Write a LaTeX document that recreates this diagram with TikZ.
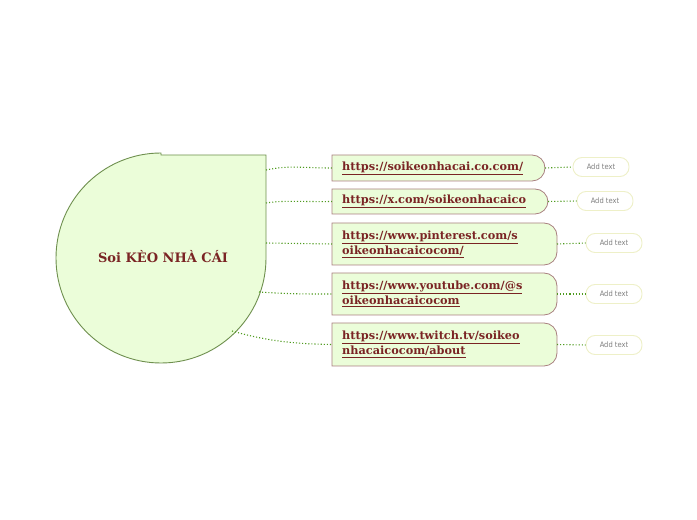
\documentclass[tikz,border=0pt]{standalone}
\usepackage{fontspec}
\setmainfont{DejaVu Serif}
\newfontfamily\addfont{DejaVu Sans Condensed}
\definecolor{fillg}{HTML}{EBFDD9}
\definecolor{edgeg}{HTML}{6E8F4E}
\definecolor{linkc}{HTML}{7A2424}
\definecolor{boxb}{HTML}{A98080}
\definecolor{dotg}{HTML}{4E9A1E}
\definecolor{pillb}{HTML}{EEF0C8}
\begin{document}
\begin{tikzpicture}[x=1pt,y=1pt,
  linktext/.style={inner sep=0pt,anchor=west,align=left,text=linkc,font=\fontsize{11.3}{15}\selectfont\bfseries},
  boxsty/.style={fill=fillg,draw=boxb,line width=0.8pt},
  addsty/.style={draw=pillb,line width=0.9pt,fill=white,rounded corners=9pt,minimum width=56pt,minimum height=19pt,inner sep=0pt,text=gray,font=\addfont\fontsize{7.5}{8}\selectfont},
  conn/.style={dotg,dotted,line width=1.1pt}]
\useasboundingbox (0,0) rectangle (697,520);
% central shape
\path[fill=fillg,draw=edgeg,line width=0.9pt] (161,365) -- (266,365) -- (266,262) arc[start angle=0,end angle=-270,radius=105] -- cycle;
\node (c) at (163,263) [text=linkc,font=\fontsize{13}{15}\selectfont\bfseries] {Soi KÈO NHÀ CÁI};
\coordinate (s1) at (266,350);
\coordinate (s2) at (266,317);
\coordinate (s3) at (266,277);
\coordinate (s4) at (259,228);
\coordinate (s5) at (232,189);
\foreach \n/\xa/\xb/\ya/\yb in {1/332/545/339/365,2/332/548/306/331,3/332/557/255/297,4/332/557/205/247,5/332/557/154/197}{
  \path[boxsty] (\xa,\yb) [rounded corners=13pt] -- (\xb,\yb) -- (\xb,\ya) [sharp corners] -- (\xa,\ya) -- cycle;
  \coordinate (bw\n) at (\xa,{(\ya+\yb)/2});
  \coordinate (be\n) at (\xb,{(\ya+\yb)/2});
}
\node[linktext] (t1) at (342,352) {\underline{https://soikeonhacai.co.com/}};
\node[linktext] (t2) at (342,318.5) {\underline{https://x.com/soikeonhacaico}};
\node[linktext] (t3) at (342,276) {\underline{https://www.pinterest.com/s}\\\underline{oikeonhacaicocom/}};
\node[linktext] (t4) at (342,226) {\underline{https://www.youtube.com/@s}\\\underline{oikeonhacaicocom}};
\node[linktext] (t5) at (342,175.5) {\underline{https://www.twitch.tv/soikeo}\\\underline{nhacaicocom/about}};
\node[addsty] (a1) at (601,353) {Add text};
\node[addsty] (a2) at (605,319) {Add text};
\node[addsty] (a3) at (614,277) {Add text};
\node[addsty] (a4) at (614,226) {Add text};
\node[addsty] (a5) at (614,175) {Add text};
\draw[conn] (s1) .. controls (290,355) and (300,352) .. (bw1);
\draw[conn] (s2) .. controls (285,320) and (300,318) .. (bw2);
\draw[conn] (s3) -- (bw3);
\draw[conn] (s4) .. controls (290,226) and (300,226) .. (bw4);
\draw[conn] (s5) .. controls (270,178) and (300,176) .. (bw5);
\foreach \n in {1,...,5}{\draw[conn] (be\n) -- (a\n.west);}
\end{tikzpicture}
\end{document}
